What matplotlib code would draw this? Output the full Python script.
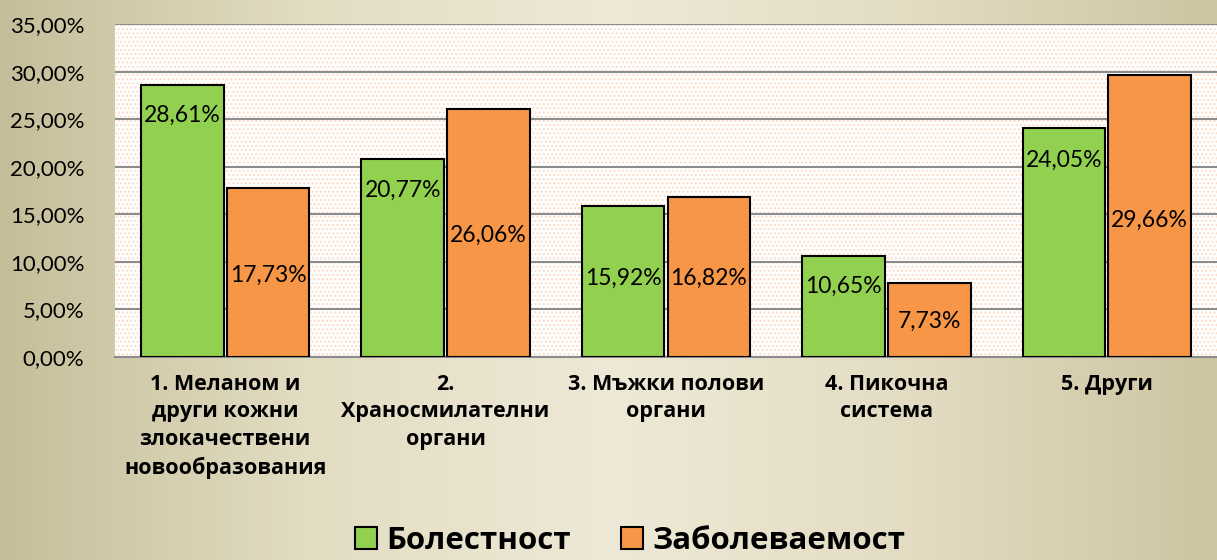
import numpy as np
import matplotlib.pyplot as plt
from matplotlib.patches import Rectangle
from matplotlib.colors import LinearSegmentedColormap

plt.rcParams['font.family'] = ['Lato', 'DejaVu Sans']
cirilico = ['Open Sans', 'DejaVu Sans']

# Datos
categorias = ['1. Меланом и\nдруги кожни\nзлокачествени\nновообразования',
              '2.\nХраносмилателни\nоргани',
              '3. Мъжки полови\nоргани',
              '4. Пикочна\nсистема',
              '5. Други']
bolestnost = [28.61, 20.77, 15.92, 10.65, 24.05]
zabolevaemost = [17.73, 26.06, 16.82, 7.73, 29.66]
# posicion vertical de las etiquetas (en %)
pos_bol = [25.4, 17.5, 8.3, 7.4, 20.7]
pos_zab = [8.6, 12.8, 8.3, 3.7, 14.4]
series = ['Болестност', 'Заболеваемост']

verde = '#92d050'
naranja = '#f79646'

fig = plt.figure(figsize=(12.17, 5.6), dpi=100)

# fondo degradado
bg = fig.add_axes([0, 0, 1, 1], zorder=-10)
cmap_fondo = LinearSegmentedColormap.from_list('fondo', ['#c6be9a', '#e2dcc2', '#eee9d7', '#e3dcc3', '#cdc4a1'])
grad = np.linspace(0, 1, 256).reshape(1, -1)
bg.imshow(grad, cmap=cmap_fondo, aspect='auto', extent=[0, 1, 0, 1])
bg.axis('off')

ax = fig.add_axes([0.0945, 0.3625, 0.9055, 0.5945])
ax.set_facecolor('white')
ax.add_patch(Rectangle((0, 0), 1, 1, transform=ax.transAxes, facecolor='white',
                       edgecolor='#fbdcc6', hatch='....', lw=0, zorder=0))

x = np.arange(len(categorias))
w = 0.375
gap = 0.007
ax.bar(x - w / 2 - gap, bolestnost, w, color=verde, edgecolor='black', lw=1.5, zorder=3, label=series[0])
ax.bar(x + w / 2 + gap, zabolevaemost, w, color=naranja, edgecolor='black', lw=1.5, zorder=3, label=series[1])

for i in range(len(x)):
    ax.text(x[i] - w / 2 - gap, pos_bol[i], f'{bolestnost[i]:.2f}%'.replace('.', ','),
            ha='center', va='center', fontsize=16.5, zorder=4)
    ax.text(x[i] + w / 2 + gap, pos_zab[i], f'{zabolevaemost[i]:.2f}%'.replace('.', ','),
            ha='center', va='center', fontsize=16.5, zorder=4)

ax.set_xlim(-0.5, len(x) - 0.5)
ax.set_ylim(0, 35)
ticks = np.arange(0, 36, 5)
ax.set_yticks(ticks)
ax.set_yticklabels([f'{t:.2f}%'.replace('.', ',') for t in ticks], fontsize=16)
ax.yaxis.grid(True, color='#8c8c8c', lw=1.5, zorder=1)
ax.set_axisbelow(True)
ax.set_xticks(x)
ax.set_xticklabels(categorias, fontsize=15.5, fontweight='bold', linespacing=1.42, va='top',
                   family=cirilico)
ax.tick_params(axis='x', length=0, pad=12)
ax.tick_params(axis='y', length=0, pad=22)
for lado in ['left', 'right', 'top']:
    ax.spines[lado].set_visible(False)
ax.spines['bottom'].set_color('#8c8c8c')
ax.spines['bottom'].set_linewidth(1.5)

fig.legend(loc='lower center', bbox_to_anchor=(0.518, -0.043), ncol=2, frameon=False,
           prop={'size': 22.5, 'weight': 'bold', 'family': cirilico},
           handlelength=0.7, handleheight=0.7, handletextpad=0.3, columnspacing=1.6)

plt.savefig('out.png', dpi=100)
